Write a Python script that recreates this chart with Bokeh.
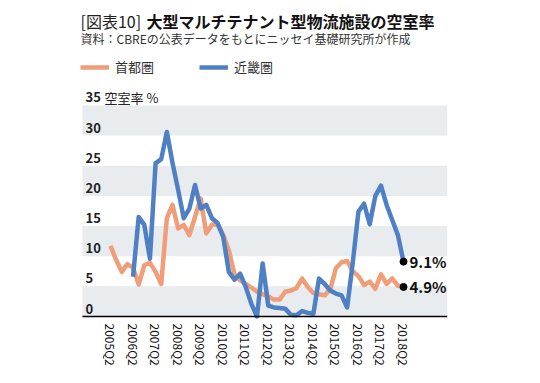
import numpy as np
from bokeh.plotting import figure
from bokeh.models import Range1d, FixedTicker, Label, Legend, LegendItem
from bokeh.core.properties import value
from bokeh.embed import file_html
from bokeh.resources import INLINE

# ---------------- data ----------------
quarters = [f"{y}Q{q}" for y in range(2005, 2019) for q in range(1, 5)][1:54]  # 2005Q2 .. 2018Q2

# 首都圏 vacancy rate (%)
shuto = [11.7, 9.4, 7.4, 8.7, 8.1, 5.3, 8.5, 8.9, 7.4, 5.4,
         16.3, 18.5, 14.6, 15.2, 13.5, 16.5, 19.6, 13.8, 15.2, 15.3,
         13.5, 11.0, 7.0, 6.0, 5.4, 4.8, 4.1, 3.7, 3.3, 2.8,
         2.8, 4.1, 4.3, 4.7, 6.3, 4.9, 3.9, 3.7, 3.5, 4.5,
         8.0, 9.0, 9.2, 7.5, 6.7, 5.2, 5.8, 4.6, 7.0, 5.4,
         6.3, 5.1, 4.9]

# 近畿圏 vacancy rate (%)
kinki = [None, None, None, None, 6.6, 16.5, 15.2, 9.6, 25.4, 26.1,
         30.6, 25.5, 21.0, 16.3, 17.9, 21.8, 17.9, 18.5, 16.3, 15.5,
         13.2, 7.4, 6.1, 7.1, 4.9, 2.1, 0.0, 8.8, 1.8, 1.5,
         1.4, 1.3, 0.3, 0.2, 0.9, 0.6, 0.45, 6.3, 5.4, 4.3,
         3.8, 3.5, 1.5, 9.0, 17.4, 18.7, 15.3, 20.0, 21.7, 18.5,
         16.0, 13.5, 9.1]

tick_labels = [f"{y}Q2" for y in range(2005, 2019)]
y_ticks = [0, 5, 10, 15, 20, 25, 30, 35]

title_a = "[図表10]"
title_b = "大型マルチテナント型物流施設の空室率"
subtitle = "資料：CBREの公表データをもとにニッセイ基礎研究所が作成"
y_title = "空室率  %"
series_names = ["首都圏", "近畿圏"]

# ---------------- style ----------------
ORANGE = "#F09E79"
BLUE = "#4F80C4"
BAND = "#E9ECEF"
FONT = "Noto Sans CJK JP"

idx = np.arange(len(quarters))
y_shuto = np.array(shuto, dtype=float)
y_kinki = np.array([np.nan if v is None else v for v in kinki], dtype=float)

# layout (canvas pixels)
FL, FR = 78, 447        # frame left / right
FH = 320                # frame height (top at 0)
ZERO_PX = 316           # pixel row of value 0
PX_PER_UNIT = 6.03
PX_PER_Q = 5.635
Q0_PX = 110             # pixel column of first quarter
FW = FR - FL

X0 = (FL - Q0_PX) / PX_PER_Q
X1 = (FR - Q0_PX) / PX_PER_Q
Y1 = ZERO_PX / PX_PER_UNIT
Y0 = -(FH - ZERO_PX) / PX_PER_UNIT
BAND_L = (82 - Q0_PX) / PX_PER_Q


def dx(px):
    return X0 + (px - FL) * (X1 - X0) / FW


def dy(py):
    return Y1 - py * (Y1 - Y0) / FH


p = figure(frame_width=FW, frame_height=FH,
           x_range=Range1d(X0, X1), y_range=Range1d(Y0, Y1),
           output_backend="svg", toolbar_location=None,
           y_axis_location=None,
           min_border_left=FL, min_border_right=85,
           min_border_top=0, min_border_bottom=0)
p.outline_line_color = None
p.xgrid.visible = False
p.ygrid.visible = False
p.background_fill_color = "white"
p.border_fill_color = "white"

# alternating bands
band_bottom = y_ticks[0::2]
band_top = y_ticks[1::2]
p.quad(left=BAND_L, right=X1, bottom=band_bottom, top=band_top,
       fill_color=BAND, line_color=None)

# y tick labels inside plot
p.text(x=[BAND_L] * len(y_ticks), y=y_ticks, text=[str(t) for t in y_ticks],
       x_offset=3, y_offset=-8, text_baseline="middle", text_align="left",
       text_font=value(FONT), text_font_style="bold", text_font_size="13px",
       text_color="#222222")

r1 = p.line(idx, y_shuto, line_width=4.5, color=ORANGE, line_join="round")
r2 = p.line(idx, y_kinki, line_width=4.5, color=BLUE, line_join="round")

# baseline
p.segment(x0=[BAND_L], y0=[0], x1=[X1], y1=[0], line_color="black", line_width=1.5)

# end markers
end_x = [idx[-1], idx[-1]]
end_y = [y_kinki[-1], y_shuto[-1]]
p.scatter(end_x, end_y, size=7, color="black")
p.text(x=end_x, y=end_y, text=[f"{v:.1f}%" for v in end_y], x_offset=6,
       text_baseline="middle", text_align="left", text_font=value(FONT),
       text_font_style="bold", text_font_size="15px", text_color="#111111")

# x axis
tick_pos = [quarters.index(t) for t in tick_labels]
ax = p.xaxis[0]
ax.ticker = FixedTicker(ticks=tick_pos)
ax.major_label_overrides = {pos: lab for pos, lab in zip(tick_pos, tick_labels)}
ax.major_label_orientation = "vertical"
ax.major_tick_line_color = None
ax.minor_tick_line_color = None
ax.major_tick_out = 0
ax.major_tick_in = 0
ax.major_label_standoff = 3
ax.axis_line_color = None
ax.major_label_text_font = FONT
ax.major_label_text_font_size = "12px"
ax.major_label_text_color = "#111111"

# titles
p.add_layout(Label(x=dx(80), y=dy(20), text=title_a, text_font=FONT,
                   text_font_size="16px", text_baseline="middle", text_color="#222222"))
p.add_layout(Label(x=dx(146), y=dy(20), text=title_b, text_font=FONT,
                   text_font_size="16px", text_font_style="bold",
                   text_baseline="middle", text_color="#111111"))
p.add_layout(Label(x=dx(80), y=dy(38), text=subtitle, text_font=FONT,
                   text_font_size="12px", text_baseline="middle", text_color="#333333"))
p.add_layout(Label(x=dx(104), y=dy(97), text=y_title, text_font=FONT,
                   text_font_size="13px", text_baseline="middle", text_color="#222222"))

# legend
legend = Legend(items=[LegendItem(label=series_names[0], renderers=[r1]),
                       LegendItem(label=series_names[1], renderers=[r2])],
                orientation="horizontal", location=(2, 244),
                margin=0, padding=0, spacing=45,
                glyph_width=29, glyph_height=14, label_standoff=6,
                label_text_font=FONT, label_text_font_size="13px",
                label_text_color="#333333",
                background_fill_alpha=0, border_line_color=None)
p.add_layout(legend)

open("out.html", "w").write(file_html(p, INLINE))
